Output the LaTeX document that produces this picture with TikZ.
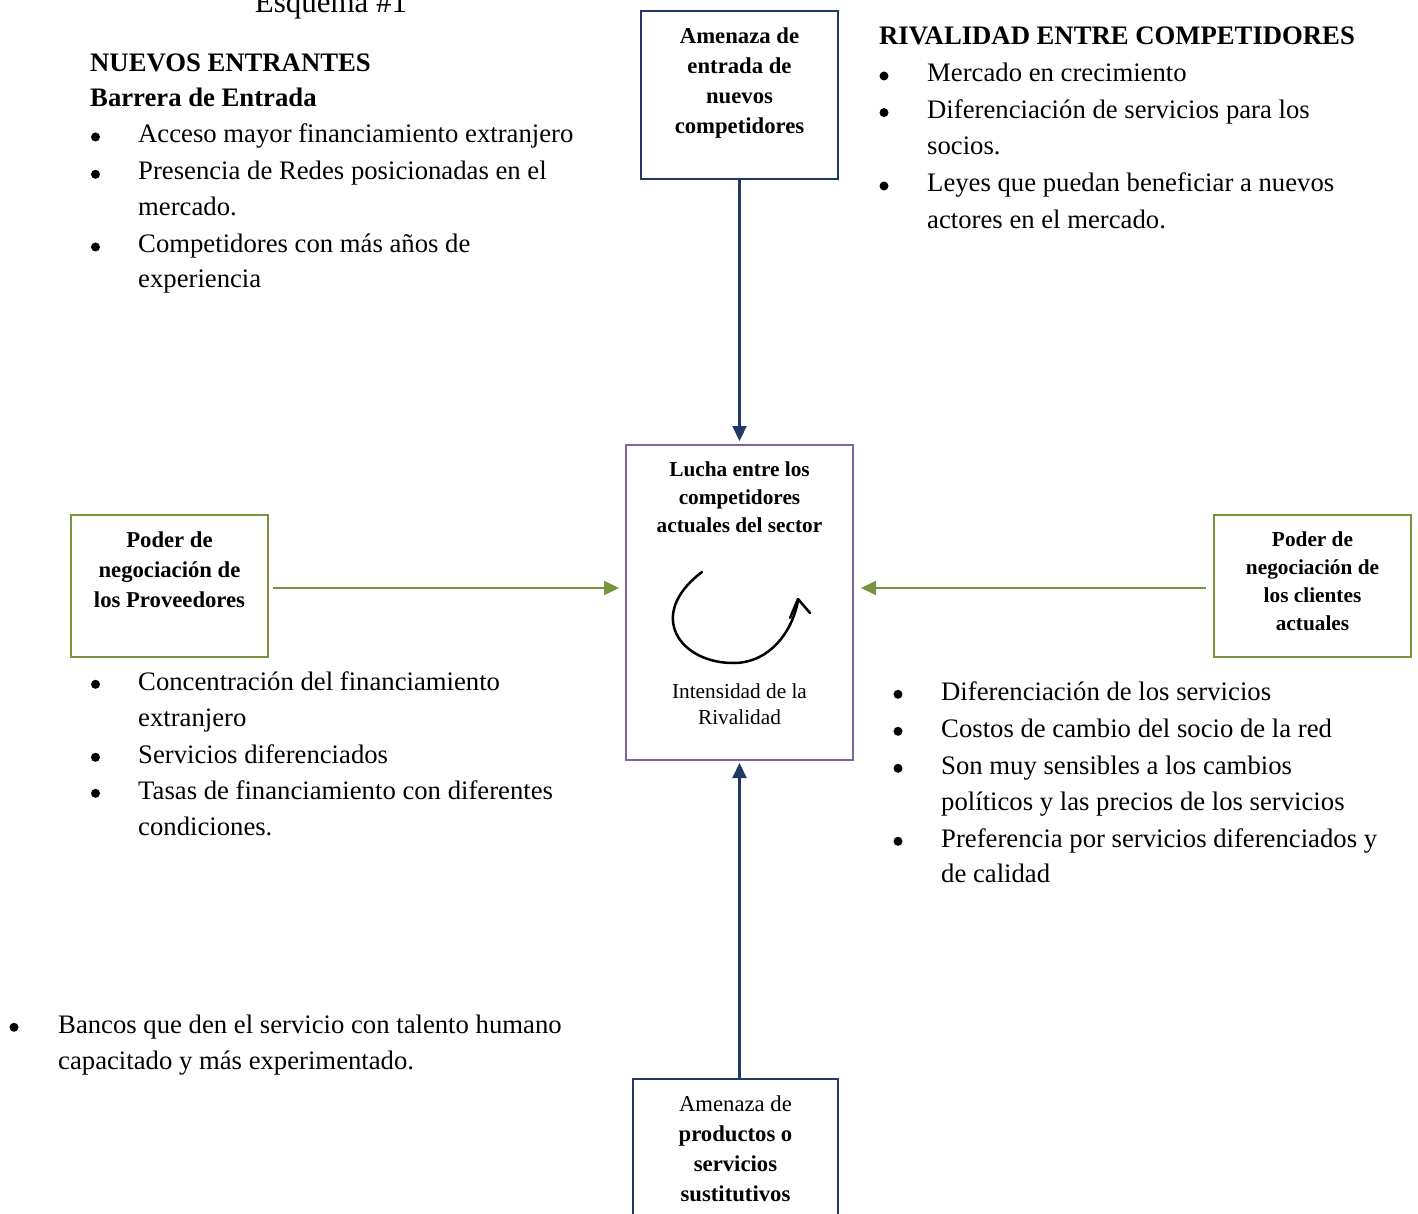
\documentclass[tikz,border=0pt]{standalone}
\usepackage{fontspec}
\setmainfont{Liberation Serif}
\usetikzlibrary{arrows.meta}
\definecolor{navy}{HTML}{1F3864}
\definecolor{purp}{HTML}{8064A2}
\definecolor{grn}{HTML}{77933C}
\begin{document}
\begin{tikzpicture}[x=1pt,y=-1pt,
  body/.style={font=\fontsize{26.7}{36}\selectfont, anchor=base west, inner sep=0pt},
  bodyb/.style={font=\fontsize{26.7}{36}\selectfont\bfseries, anchor=base west, inner sep=0pt},
  boxt/.style={font=\fontsize{22.7}{30}\selectfont\bfseries, anchor=base, inner sep=0pt},
  boxr/.style={font=\fontsize{22.7}{30}\selectfont, anchor=base, inner sep=0pt},
  boxs/.style={font=\fontsize{21.3}{28}\selectfont\bfseries, anchor=base, inner sep=0pt},
  boxsr/.style={font=\fontsize{21.3}{28}\selectfont, anchor=base, inner sep=0pt},
  frame/.style={draw, line width=2pt, inner sep=0pt, fill=white},
  barrow/.style={draw=navy, line width=2.2pt, -{Triangle[length=15pt,width=14pt]}},
  garrow/.style={draw=grn, line width=2.2pt, -{Triangle[length=15pt,width=14pt]}},
  bul/.style={fill=black}
]
\useasboundingbox (0,0) rectangle (1418,1214);

% title
\node[font=\fontsize{31}{36}\selectfont, anchor=base, inner sep=0pt] (title) at (331,13) {Esquema \#1};

% boxes
\node[frame, draw=navy, minimum width=197pt, minimum height=168pt] (tbox) at (739.5,95) {};
\node[frame, draw=purp, minimum width=227pt, minimum height=315pt] (cbox) at (739.5,602.5) {};
\node[frame, draw=grn, minimum width=197pt, minimum height=142pt] (lbox) at (169.5,586) {};
\node[frame, draw=grn, minimum width=197pt, minimum height=142pt] (rbox) at (1312.5,586) {};
\node[frame, draw=navy, minimum width=205pt, minimum height=143pt] (bbox) at (735.5,1150.5) {};

% box texts
\node[boxt] (t1) at (739.5,44) {Amenaza de};
\node[boxt] (t2) at (739.5,74) {entrada de};
\node[boxt] (t3) at (739.5,104) {nuevos};
\node[boxt] (t4) at (739.5,134) {competidores};

\node[boxs] (c1) at (739.5,476) {Lucha entre los};
\node[boxs] (c2) at (739.5,504) {competidores};
\node[boxs] (c3) at (739.5,532) {actuales del sector};
\node[boxsr] (c4) at (739.5,698) {Intensidad de la};
\node[boxsr] (c5) at (739.5,724) {Rivalidad};

\node[boxt] (l1) at (169.5,547) {Poder de};
\node[boxt] (l2) at (169.5,577) {negociación de};
\node[boxt] (l3) at (169.5,607) {los Proveedores};

\node[boxs] (r1) at (1312.5,546) {Poder de};
\node[boxs] (r2) at (1312.5,574) {negociación de};
\node[boxs] (r3) at (1312.5,602) {los clientes};
\node[boxs] (r4) at (1312.5,630) {actuales};

\node[boxr] (b1) at (735.5,1111) {Amenaza de};
\node[boxt] (b2) at (735.5,1141) {productos o};
\node[boxt] (b3) at (735.5,1171) {servicios};
\node[boxt] (b4) at (735.5,1201) {sustitutivos};

% rivalry circular arrow
\draw[line width=2.5pt, line cap=round] (702,572) .. controls (645,615) and (680,664) .. (735,663)
   .. controls (770,662) and (792,632) .. (798,601);
\draw[line width=2.5pt, line cap=round, line join=round] (790,618) -- (798,599) -- (810,613);

% connectors
\draw[barrow] (tbox.south) -- ([yshift=3pt]cbox.north);
\draw[barrow] (cbox.south |- bbox.north) -- ([yshift=-2pt]cbox.south);
\draw[garrow] ([xshift=4pt,yshift=-2pt]lbox.east) -- ([xshift=-6pt,yshift=-2pt]lbox.east -| cbox.west);
\draw[garrow] ([xshift=-7pt,yshift=-2pt]rbox.west) -- ([xshift=7pt,yshift=-2pt]rbox.west -| cbox.east);

% top-left text
\node[bodyb] (h1) at (90,71.7) {NUEVOS ENTRANTES};
\node[bodyb] (h2) at (90,106.7) {Barrera de Entrada};
\fill[bul] (95.5,137) circle (4.5);
\node[body] (a1) at (138,142.7) {Acceso mayor financiamiento extranjero};
\fill[bul] (95.5,174.3) circle (4.5);
\node[body] (a2) at (138,180) {Presencia de Redes posicionadas en el};
\node[body] (a3) at (138,216) {mercado.};
\fill[bul] (95.5,247) circle (4.5);
\node[body] (a4) at (138,252.7) {Competidores con más años de};
\node[body] (a5) at (138,288) {experiencia};

% top-right text
\node[bodyb] (h3) at (879,45) {RIVALIDAD ENTRE COMPETIDORES};
\fill[bul] (884,76) circle (4.5);
\node[body] (d1) at (927,81.7) {Mercado en crecimiento};
\fill[bul] (884,112.6) circle (4.5);
\node[body] (d2) at (927,118.3) {Diferenciación de servicios para los};
\node[body] (d3) at (927,155) {socios.};
\fill[bul] (884,186) circle (4.5);
\node[body] (d4) at (927,191.7) {Leyes que puedan beneficiar a nuevos};
\node[body] (d5) at (927,228.3) {actores en el mercado.};

% middle-left text
\fill[bul] (95.5,684.3) circle (4.5);
\node[body] (p1) at (138,690) {Concentración del financiamiento};
\node[body] (p2) at (138,726) {extranjero};
\fill[bul] (95.5,757.3) circle (4.5);
\node[body] (p3) at (138,763) {Servicios diferenciados};
\fill[bul] (95.5,793.3) circle (4.5);
\node[body] (p4) at (138,799) {Tasas de financiamiento con diferentes};
\node[body] (p5) at (138,835) {condiciones.};

% middle-right text
\fill[bul] (898,694.3) circle (4.5);
\node[body] (q1) at (941,700) {Diferenciación de los servicios};
\fill[bul] (898,731.3) circle (4.5);
\node[body] (q2) at (941,737) {Costos de cambio del socio de la red};
\fill[bul] (898,768.3) circle (4.5);
\node[body] (q3) at (941,774) {Son muy sensibles a los cambios};
\node[body] (q4) at (941,810) {políticos y las precios de los servicios};
\fill[bul] (898,841.3) circle (4.5);
\node[body] (q5) at (941,847) {Preferencia por servicios diferenciados y};
\node[body] (q6) at (941,882) {de calidad};

% bottom-left text
\fill[bul] (14,1027.3) circle (4.5);
\node[body] (s1) at (58,1033) {Bancos que den el servicio con talento humano};
\node[body] (s2) at (58,1069) {capacitado y más experimentado.};
\end{tikzpicture}
\end{document}
